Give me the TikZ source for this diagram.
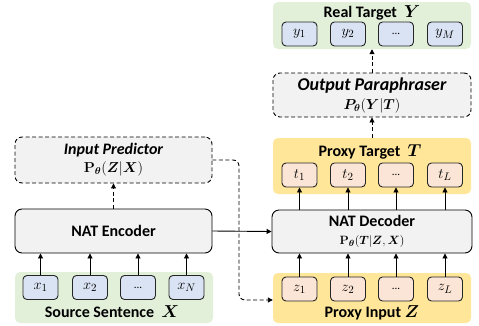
\documentclass[tikz,border=0pt]{standalone}
\usepackage{amsmath,amssymb,bm}
\usepackage[no-math]{fontspec}
\setmainfont{Carlito}
\usetikzlibrary{arrows.meta,positioning,calc}
\definecolor{greenpanel}{HTML}{E2F0D9}
\definecolor{orangepanel}{HTML}{FFE699}
\definecolor{tokblue}{HTML}{DAE3F3}
\definecolor{tokorange}{HTML}{FBE5D6}
\definecolor{modgray}{HTML}{F2F2F2}
\begin{document}
\begin{tikzpicture}[x=1pt,y=-1pt,
  panel/.style={draw=none, rounded corners=5pt},
  tok/.style={draw=black!85, line width=0.9pt, rounded corners=4pt, minimum width=35pt, minimum height=24pt, inner sep=0pt, font=\fontsize{15}{16}\selectfont},
  module/.style={draw=black, line width=0.9pt, fill=modgray, rounded corners=7pt, inner sep=0pt, align=center, font=\fontsize{16}{17}\selectfont},
  dmodule/.style={module, dashed, dash pattern=on 4pt off 2.5pt},
  ptitle/.style={font=\fontsize{16}{17}\selectfont\bfseries},
  arr/.style={-{Triangle[length=5pt,width=5pt]}, line width=0.9pt},
  darr/.style={arr, dash pattern=on 4pt off 2.5pt}
]
\useasboundingbox (0,0) rectangle (479,325);

% panels
\path[panel, fill=greenpanel] (273,2) rectangle (471,49);
\node[inner sep=0pt, minimum width=198pt, minimum height=47pt] (rtpanel) at (372,25.5) {};
\path[panel, fill=orangepanel] (273,138) rectangle (471,194);
\node[inner sep=0pt, minimum width=198pt, minimum height=56pt] (ptpanel) at (372,166) {};
\path[panel, fill=orangepanel] (273,273) rectangle (471,323);
\node[inner sep=0pt, minimum width=198pt, minimum height=50pt] (pipanel) at (372,298) {};
\path[panel, fill=greenpanel] (15,272) rectangle (213,323);
\node[inner sep=0pt, minimum width=198pt, minimum height=51pt] (sspanel) at (114,297.5) {};

% panel labels
\node[ptitle] (rtlab) at (372,13) {Real Target\ \ $\boldsymbol{Y}$};
\node[ptitle] (ptlab) at (370,152) {Proxy Target\ \ $\boldsymbol{T}$};
\node[ptitle] (pilab) at (372,312.5) {Proxy Input $\boldsymbol{Z}$};
\node[ptitle] (sslab) at (112,312) {Source Sentence\ \ $\boldsymbol{X}$};

% tokens
\node[tok, fill=tokblue] (y1) at (299.5,34) {$y_1$};
\node[tok, fill=tokblue] (y2) at (348,34) {$y_2$};
\node[tok, fill=tokblue] (y3) at (396,34) {\fontsize{11}{12}\selectfont ...};
\node[tok, fill=tokblue] (y4) at (445,34) {$y_M$};

\node[tok, fill=tokorange] (t1) at (299.5,175) {$t_1$};
\node[tok, fill=tokorange] (t2) at (348,175) {$t_2$};
\node[tok, fill=tokorange] (t3) at (396,175) {\fontsize{11}{12}\selectfont ...};
\node[tok, fill=tokorange] (t4) at (445,175) {$t_L$};

\node[tok, fill=tokorange] (z1) at (299.5,289) {$z_1$};
\node[tok, fill=tokorange] (z2) at (348,289) {$z_2$};
\node[tok, fill=tokorange] (z3) at (396,289) {\fontsize{11}{12}\selectfont ...};
\node[tok, fill=tokorange] (z4) at (445,289) {$z_L$};

\node[tok, fill=tokblue] (x1) at (40.5,287.5) {$x_1$};
\node[tok, fill=tokblue] (x2) at (90,287.5) {$x_2$};
\node[tok, fill=tokblue] (x3) at (138,287.5) {\fontsize{11}{12}\selectfont ...};
\node[tok, fill=tokblue] (x4) at (186.5,287.5) {$x_N$};

% modules
\node[dmodule, minimum width=197pt, minimum height=46pt] (ip) at (113.5,160)
  {{\bfseries\itshape Input Predictor}\\[1pt]
   {\fontsize{14}{15}\selectfont $\mathbf{P}_{\boldsymbol{\theta}}(\boldsymbol{Z}|\boldsymbol{X})$}};
\node[module, minimum width=197pt, minimum height=44pt] (enc) at (113.5,231)
  {{\bfseries NAT Encoder}};
\node[dmodule, minimum width=198pt, minimum height=44pt] (op) at (372,95)
  {{\fontsize{18}{19}\selectfont\bfseries\itshape Output Paraphraser}\\[2pt]
   {\fontsize{14}{15}\selectfont $\boldsymbol{P_{\theta}}(\boldsymbol{Y}|\boldsymbol{T})$}};
\node[module, minimum width=200pt, minimum height=43pt] (dec) at (372,231.5)
  {{\bfseries NAT Decoder}\\[1pt]
   {\fontsize{13}{14}\selectfont $\mathbf{P}_{\boldsymbol{\theta}}(\boldsymbol{T}|\boldsymbol{Z},\boldsymbol{X})$}};

% arrows
\foreach \n in {x1,x2,x3,x4} \draw[arr] (\n.north) -- (\n.north |- enc.south);
\foreach \n in {z1,z2,z3,z4} \draw[arr] (\n.north) -- (\n.north |- dec.south);
\foreach \n in {t1,t2,t3,t4} \draw[arr] (\n.south |- dec.north) -- (\n.south);
\draw[arr] (enc.east) -- (dec.west);
\draw[darr] (enc.north) -- (ip.south);
\draw[darr] (ptpanel.north) -- (op.south);
\draw[darr] (op.north) -- (rtpanel.south);
\coordinate (c1) at (239,160);
\coordinate (c2) at (239,300);
\draw[darr, rounded corners=6pt] (ip.east) -- (c1) -- (c2) -- (pipanel.west |- c2);
\end{tikzpicture}
\end{document}
